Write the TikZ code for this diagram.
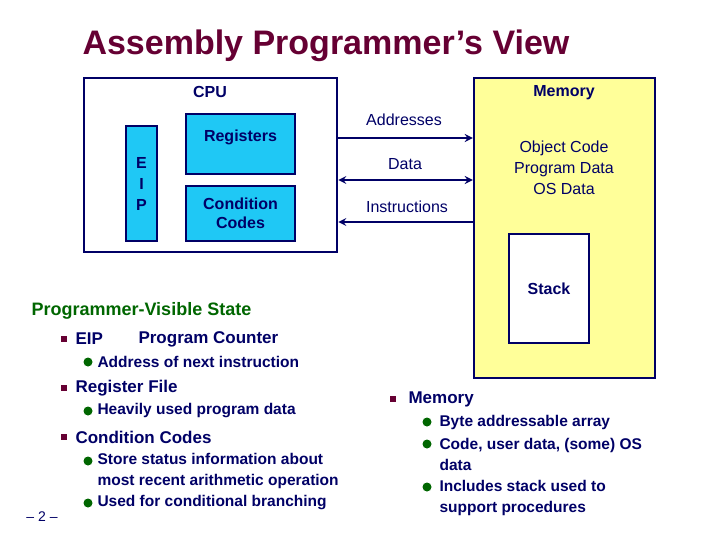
\documentclass[tikz,border=0pt]{standalone}
\usepackage{fontspec}
\setmainfont{Liberation Sans}
\begin{document}
\definecolor{navy}{HTML}{000066}
\definecolor{maroon}{HTML}{660033}
\definecolor{dgreen}{HTML}{006600}
\definecolor{cyanb}{HTML}{1FC8F5}
\definecolor{yel}{HTML}{FFFF99}
\begin{tikzpicture}[x=1pt,y=-1pt,
  box/.style={draw=navy,line width=2.5pt},
  reg/.style={box,fill=cyanb,font=\fontsize{16}{19}\selectfont\bfseries,text=navy,align=center,inner sep=0},
  lab/.style={text=navy,font=\fontsize{16}{19}\selectfont,align=center},
  blab/.style={text=navy,font=\fontsize{16}{19}\selectfont\bfseries},
  itm/.style={anchor=west,text=navy,font=\fontsize{17}{20}\selectfont\bfseries},
  sub/.style={anchor=west,text=navy,font=\fontsize{15.5}{21}\selectfont\bfseries,align=left},
  sq/.style={fill=maroon,minimum size=6pt,inner sep=0},
  dot/.style={circle,fill=dgreen,minimum size=9pt,inner sep=0},
  conn/.style={draw=navy,line width=2.5pt,>=stealth}]
\useasboundingbox (0,0) rectangle (720,540);
\node[text=maroon,font=\fontsize{34}{40}\selectfont\bfseries] (title) at (326,46) {Assembly Programmer’s View};
% CPU
\node[box,minimum width=253pt,minimum height=174pt,inner sep=0] (cpu) at (210.5,165) {};
\node[blab] (cpul) at (210,92) {CPU};
\node[reg,minimum width=31pt,minimum height=115pt] (eip) at (141.5,183.5) {E\\[2pt]I\\[2pt]P};
\node[reg,minimum width=109pt,minimum height=60pt] (regs) at (240.5,144) {\raisebox{16pt}{Registers}};
\node[reg,minimum width=109pt,minimum height=55pt] (cc) at (240.5,213.5) {Condition\\Codes};
% Memory
\node[box,fill=yel,minimum width=181pt,minimum height=300pt,inner sep=0] (mem) at (564.5,228) {};
\node[blab] (meml) at (564,93) {Memory};
\node[lab,font=\fontsize{16}{21}\selectfont] (obj) at (564,168) {Object Code\\Program Data\\OS Data};
\node[box,fill=white,minimum width=80pt,minimum height=109pt,inner sep=0] (stack) at (549,288.5) {};
\node[blab] (stackl) at (549,289) {Stack};
% connectors
\coordinate (a1) at (0,138); \coordinate (a2) at (0,180); \coordinate (a3) at (0,222);
\draw[conn,->] (cpu.east |- a1) -- (mem.west |- a1);
\draw[conn,<->] (cpu.east |- a2) -- (mem.west |- a2);
\draw[conn,<-] (cpu.east |- a3) -- (mem.west |- a3);
\node[lab] (addr) at (404,120) {Addresses};
\node[lab] (data) at (405,164) {Data};
\node[lab] (instr) at (407,207) {Instructions};
% left text
\node[anchor=west,text=dgreen,font=\fontsize{18}{22}\selectfont\bfseries] (pvs) at (28,311) {Programmer-Visible State};
\node[sq] (s1) at (64,339) {};
\node[itm] (t1) at (72,339) {EIP};
\node[itm] (t1b) at (135,339) {Program Counter};
\node[dot] (d1) at (88,362) {};
\node[sub] (u1) at (94,362) {Address of next instruction};
\node[sq] (s2) at (64,388) {};
\node[itm] (t2) at (72,388) {Register File};
\node[dot] (d2) at (88,411) {};
\node[sub] (u2) at (94,411) {Heavily used program data};
\node[sq] (s3) at (64,437) {};
\node[itm] (t3) at (72,437) {Condition Codes};
\node[dot] (d3) at (88,461) {};
\node[sub] (u3) at (94,471) {Store status information about\\most recent arithmetic operation};
\node[dot] (d4) at (88,503) {};
\node[sub] (u4) at (94,503) {Used for conditional branching};
\node[text=navy,font=\fontsize{14}{16}\selectfont] (pg) at (42,517) {– 2 –};
% right text
\node[sq] (s4) at (393,399) {};
\node[itm] (t4) at (405,399) {Memory};
\node[dot] (d5) at (427,422) {};
\node[sub] (u5) at (436,422) {Byte addressable array};
\node[dot] (d6) at (427,444) {};
\node[sub] (u6) at (436,454.5) {Code, user data, (some) OS\\data};
\node[dot] (d7) at (427,487) {};
\node[sub] (u7) at (436,497.5) {Includes stack used to\\support procedures};
\end{tikzpicture}
\end{document}
